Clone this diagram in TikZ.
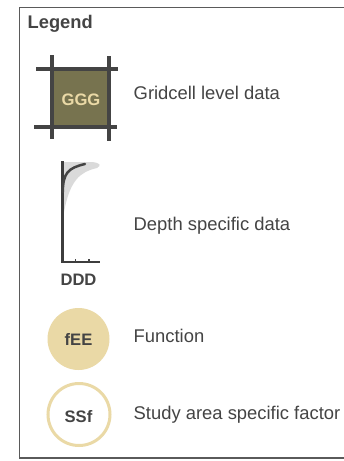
\documentclass[tikz,border=0pt]{standalone}
\usepackage{fontspec}
\setmainfont{Liberation Sans}
\definecolor{ink}{HTML}{444444}
\definecolor{framegray}{HTML}{5A5A5A}
\definecolor{olive}{HTML}{77734F}
\definecolor{sand}{HTML}{EAD9A6}
\definecolor{bandgray}{HTML}{DADADA}
\tikzset{
  label/.style={anchor=base west, text=ink, font=\fontsize{18.4}{22}\selectfont, inner sep=0pt},
  title/.style={anchor=base west, text=ink, font=\fontsize{18.3}{22}\selectfont\bfseries, inner sep=0pt},
  iconlabel/.style={anchor=base, text=ink, font=\fontsize{16.6}{20}\selectfont\bfseries, inner sep=0pt},
  gridline/.style={draw=ink, line width=4pt},
  axis/.style={draw=ink!90!black, line width=2.5pt},
}
\begin{document}
\begin{tikzpicture}[x=1pt,y=-1pt]
  \clip (0,0) rectangle (344,461);
  \fill[white] (0,0) rectangle (344,461);
  % outer frame
  \draw[framegray, line width=1.5pt] (360,7.5) -- (19.5,7.5) -- (19.5,458) -- (360,458);
  \node[title] (legend) at (27.5,28.3) {Legend};

  % gridcell icon
  \fill[olive] (52.3,69) rectangle (109.3,126.7);
  \draw[gridline] (52.3,55) -- (52.3,139);
  \draw[gridline] (109.3,56) -- (109.3,141);
  \draw[gridline] (36,69) -- (118,69);
  \draw[gridline] (34,126.7) -- (117,126.7);
  \node[iconlabel, text=sand] (ggg) at (81,105.7) {GGG};
  \node[label] (lgrid) at (133.5,99.3) {Gridcell level data};

  % depth profile icon: uncertainty band, axes, mean profile
  \fill[bandgray] (62.5,162) -- (92,162) .. controls (100,163) and (102,165) .. (97,168)
     .. controls (80,172) and (70,180) .. (64,212) -- (62.5,212) -- cycle;
  \draw[axis, line cap=butt] (62.5,161) -- (62.5,262) -- (100,262);
  \draw[ink, line width=1.5pt] (75.5,262) -- (75.5,259) (89,262) -- (89,259);
  \draw[ink, line width=2.5pt, line cap=round] (62.8,192) .. controls (63,173) and (68,168) .. (85,164);
  \node[iconlabel] (ddd) at (78.5,285) {DDD};
  \node[label] (ldepth) at (133.5,230) {Depth specific data};

  % function icon
  \node[circle, fill=sand, minimum size=62pt, inner sep=0pt] (fee) at (78.5,339) {};
  \node[iconlabel] at (78.5,345) {fEE};
  \node[label] (lfun) at (133.5,342.3) {Function};

  % study area factor icon
  \node[circle, draw=sand, line width=3pt, fill=white, minimum size=62pt, inner sep=0pt] (ssf) at (79,414.5) {};
  \node[iconlabel] at (78.5,422.7) {SSf};
  \node[label] (lssf) at (133.5,419) {Study area specific factor};
\end{tikzpicture}
\end{document}
